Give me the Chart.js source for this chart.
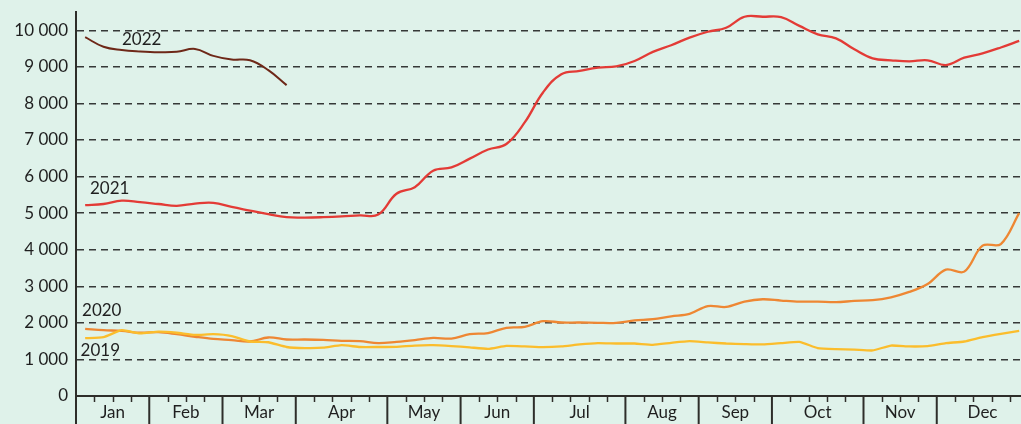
<!DOCTYPE html>
<html>
<head>
<meta charset="utf-8">
<script src="https://cdn.jsdelivr.net/npm/chart.js@4.4.1/dist/chart.umd.min.js"></script>
<style>
  html, body { margin: 0; padding: 0; background: #dff2ea; }
  canvas { display: block; }
</style>
</head>
<body>
<canvas id="weeklyChart" width="1021" height="424"></canvas>
<script>
// weekly values, one point per week
const months = ['Jan', 'Feb', 'Mar', 'Apr', 'May', 'Jun', 'Jul', 'Aug', 'Sep', 'Oct', 'Nov', 'Dec'];
const monthWeeks = [4, 4, 4, 5, 4, 4, 5, 4, 4, 5, 4, 5];
const yTicks = [0, 1000, 2000, 3000, 4000, 5000, 6000, 7000, 8000, 9000, 10000];

const s2019 = [1580, 1610, 1800, 1710, 1760, 1730, 1670, 1690, 1640, 1490,
    1470, 1340, 1310, 1320, 1390, 1340, 1340, 1345, 1380, 1390,
    1365, 1330, 1290, 1370, 1355, 1335, 1355, 1410, 1445, 1435,
    1435, 1400, 1455, 1500, 1465, 1435, 1420, 1410, 1445, 1480,
    1310, 1280, 1270, 1245, 1380, 1355, 1365, 1445, 1490, 1610,
    1700, 1780];
const s2020 = [1836, 1800, 1780, 1730, 1745, 1690, 1620, 1560, 1530, 1490,
    1600, 1545, 1545, 1535, 1510, 1500, 1445, 1480, 1530, 1590,
    1570, 1690, 1720, 1865, 1890, 2045, 2010, 2010, 2000, 2000,
    2065, 2100, 2180, 2245, 2460, 2435, 2580, 2645, 2610, 2580,
    2580, 2565, 2600, 2620, 2700, 2845, 3065, 3455, 3400, 4110,
    4155, 5000];
const s2021 = [5220, 5250, 5340, 5300, 5250, 5200, 5260, 5280, 5170, 5070,
    4970, 4890, 4880, 4890, 4910, 4940, 4960, 5530, 5710, 6160,
    6250, 6490, 6740, 6890, 7480, 8300, 8800, 8890, 8980, 9010,
    9160, 9410, 9590, 9800, 9960, 10070, 10370, 10370, 10360, 10120,
    9890, 9780, 9480, 9230, 9180, 9150, 9180, 9050, 9250, 9370,
    9530, 9710];
const s2022 = [9810, 9550, 9460, 9420, 9400, 9410, 9490, 9300, 9200, 9180, 8910, 8500];

const BG = '#dff2ea';
const INK = '#1f1f1f';
const FONT = 'Lato, "Open Sans", sans-serif';

// month boundaries and centres in week units
const bounds = [0];
monthWeeks.forEach(n => bounds.push(bounds[bounds.length - 1] + n));
const centres = months.map((m, i) => (bounds[i] + bounds[i + 1]) / 2);

const toPoints = arr => arr.map((v, i) => ({ x: i + 0.5, y: v }));
const fmt = v => String(v).replace(/\B(?=(\d{3})+(?!\d))/g, ' ');

const bgPlugin = {
    id: 'bg',
    beforeDraw(chart) {
        const ctx = chart.ctx;
        ctx.save();
        ctx.fillStyle = BG;
        ctx.fillRect(0, 0, chart.width, chart.height);
        ctx.restore();
    }
};

// week ticks (short) and month separators (long) below the x axis
const weekTicks = {
    id: 'weekTicks',
    afterDraw(chart) {
        const ctx = chart.ctx;
        const xs = chart.scales.x;
        const base = chart.chartArea.bottom;
        ctx.save();
        ctx.strokeStyle = '#2e2e2a';
        for (let w = 1; w < 52; w++) {
            if (bounds.includes(w)) continue;
            const px = Math.round(xs.getPixelForValue(w)) + 0.5;
            ctx.lineWidth = 1.5;
            ctx.beginPath();
            ctx.moveTo(px, base);
            ctx.lineTo(px, base + 6);
            ctx.stroke();
        }
        bounds.forEach(w => {
            const px = xs.getPixelForValue(w);
            ctx.lineWidth = 2;
            ctx.beginPath();
            ctx.moveTo(px, base);
            ctx.lineTo(px, chart.height);
            ctx.stroke();
        });
        ctx.restore();
    }
};

// year names next to the lines
const yearNames = ['2019', '2020', '2021', '2022'];
const yearNameAt = [[0.25, 1257], [0.33, 2350], [0.76, 5680], [2.51, 9750]];
const yearLabels = {
    id: 'yearLabels',
    afterDatasetsDraw(chart) {
        const ctx = chart.ctx;
        ctx.save();
        ctx.font = '17px ' + FONT;
        ctx.fillStyle = INK;
        ctx.textAlign = 'left';
        ctx.textBaseline = 'middle';
        yearNames.forEach((t, i) => {
            ctx.fillText(t, chart.scales.x.getPixelForValue(yearNameAt[i][0]),
                chart.scales.y.getPixelForValue(yearNameAt[i][1]));
        });
        ctx.restore();
    }
};

const ctx = document.getElementById('weeklyChart').getContext('2d');
new Chart(ctx, {
    type: 'line',
    data: {
        datasets: [
            { label: '2019', data: toPoints(s2019), borderColor: '#fbbd2c', borderWidth: 2.3, tension: 0.15 },
            { label: '2020', data: toPoints(s2020), borderColor: '#ee8733', borderWidth: 2.3, tension: 0.35 },
            { label: '2021', data: toPoints(s2021), borderColor: '#e33b36', borderWidth: 2.3, tension: 0.4 },
            { label: '2022', data: toPoints(s2022), borderColor: '#6e2818', borderWidth: 2, tension: 0.4 }
        ]
    },
    options: {
        responsive: false,
        animation: false,
        layout: { padding: { top: 12, right: 0, left: 0, bottom: 0 } },
        elements: { point: { radius: 0 } },
        plugins: { legend: { display: false }, tooltip: { enabled: false } },
        scales: {
            x: {
                type: 'linear',
                min: 0,
                max: 51.6,
                afterFit: s => { s.height = 28; s.paddingLeft = 0; s.paddingRight = 0; },
                afterBuildTicks: s => { s.ticks = centres.map(v => ({ value: v })); },
                grid: { display: false, drawTicks: false },
                border: { display: true, color: '#2e2e2a', width: 2 },
                ticks: {
                    padding: 6,
                    autoSkip: false,
                    maxRotation: 0,
                    color: INK,
                    font: { family: FONT, size: 17 },
                    callback: (v, i) => months[i]
                }
            },
            y: {
                min: 0,
                max: 10500,
                afterFit: s => { s.width = 76; s.paddingTop = 0; s.paddingBottom = 0; },
                afterBuildTicks: s => { s.ticks = yTicks.map(v => ({ value: v })); },
                grid: {
                    drawTicks: false,
                    color: c => (c.tick && c.tick.value === 0) ? 'rgba(0,0,0,0)' : 'rgba(25,25,25,0.85)',
                    lineWidth: 1.5
                },
                border: { display: true, color: '#2e2e2a', width: 2, dash: [7, 5] },
                ticks: {
                    padding: 8,
                    color: INK,
                    font: { family: FONT, size: 17 },
                    callback: v => fmt(v)
                }
            }
        }
    },
    plugins: [bgPlugin, weekTicks, yearLabels]
});
</script>
</body>
</html>
